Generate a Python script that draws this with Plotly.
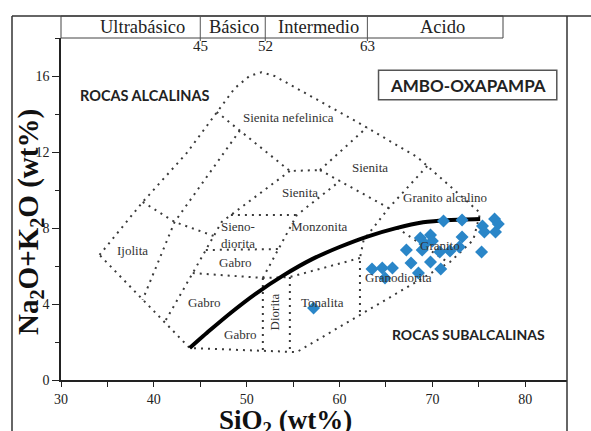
import plotly.graph_objects as go

# ---------------- data ----------------
# Sample analyses (SiO2 wt%, Na2O+K2O wt%)
sio2 = [71.2, 73.2, 75.4, 75.6, 76.7, 77.1, 76.8, 68.7, 69.8, 69.2, 70.0, 73.2,
        67.2, 68.9, 70.8, 71.9, 72.9, 75.3, 67.7, 69.8, 70.9, 63.5, 64.6, 65.7,
        64.9, 68.5, 57.2]
alkalis = [8.37, 8.42, 8.10, 7.79, 8.47, 8.21, 7.79, 7.47, 7.63, 7.16, 7.32, 7.53,
           6.84, 6.84, 6.74, 6.79, 7.00, 6.74, 6.16, 6.21, 5.84, 5.84, 5.89, 5.89,
           5.37, 5.63, 3.79]

# Alkaline / subalkaline divide
divide_x = [43.86, 46.0, 48.5, 51.0, 54.0, 57.0, 60.0, 63.0, 66.0, 69.0, 72.0, 75.15]
divide_y = [1.68, 2.60, 3.62, 4.55, 5.52, 6.35, 7.00, 7.55, 7.98, 8.30, 8.42, 8.47]

# Field boundaries (dotted)
outer_x = [34.15, 38.8, 43.55, 46.77, 48.7, 50.3, 51.6, 53.0, 55.7, 61.9, 68.35, 75.15, 74.4, 71.9, 55.4, 43.86, 34.15]
outer_y = [6.58, 9.37, 11.95, 14.11, 15.35, 16.0, 16.2, 16.0, 15.26, 13.58, 11.74, 8.79, 7.37, 6.21, 1.47, 1.68, 6.58]
neph_x = [46.77, 54.65, 57.89]
neph_y = [14.11, 11.0, 11.05]
sye_up_x = [57.89, 62.96]
sye_up_y = [11.05, 13.3]
sye_low_x = [57.89, 65.3]
sye_low_y = [11.05, 9.05]
gra_alc_x = [69.44, 65.3, 62.6, 62.2, 62.2]
gra_alc_y = [11.26, 9.05, 7.37, 6.42, 3.42]
ijo_right_x = [49.26, 42.24, 38.79]
ijo_right_y = [13.13, 8.32, 4.22]
ijo_top_x = [38.8, 42.24, 46.45]
ijo_top_y = [9.37, 8.32, 7.58]
gab_left_x = [54.65, 47.31, 44.19, 41.17]
gab_left_y = [11.0, 8.32, 5.63, 3.05]
sdio_top_x = [48.3, 55.4]
sdio_top_y = [8.68, 8.68]
sdio_bot_x = [45.6, 53.42]
sdio_bot_y = [6.84, 6.89]
gab_bot_x = [44.19, 51.74, 54.65, 62.2]
gab_bot_y = [5.63, 5.37, 5.42, 6.42]
monz_x = [51.74, 55.4, 60.04]
monz_y = [5.37, 8.68, 10.47]
dio_l_x = [51.74, 51.74]
dio_l_y = [5.37, 1.54]
dio_r_x = [54.65, 54.65]
dio_r_y = [5.42, 1.48]
grd_x = [66.2, 71.75]
grd_y = [8.0, 6.17]

boundaries = [(outer_x, outer_y), (neph_x, neph_y), (sye_up_x, sye_up_y),
              (sye_low_x, sye_low_y), (gra_alc_x, gra_alc_y), (ijo_right_x, ijo_right_y),
              (ijo_top_x, ijo_top_y), (gab_left_x, gab_left_y), (sdio_top_x, sdio_top_y),
              (sdio_bot_x, sdio_bot_y), (gab_bot_x, gab_bot_y), (monz_x, monz_y),
              (dio_l_x, dio_l_y), (dio_r_x, dio_r_y), (grd_x, grd_y)]

# Field names
field_names = ["Sienita nefelinica", "Sienita", "Sienita", "Granito alcalino", "Monzonita",
               "Sieno-<br>diorita", "Ijolita", "Gabro", "Gabro", "Gabro", "Tonalita",
               "Granodiorita", "Granito"]
field_x = [54.46, 63.3, 55.73, 71.36, 57.89, 49.04, 37.72, 48.83, 45.5, 49.37, 58.2, 66.3, 70.8]
field_y = [13.79, 11.16, 9.89, 9.58, 8.1, 7.63, 6.79, 6.16, 4.1, 2.42, 4.1, 5.37, 7.1]

# Header (silica classes)
groups = ["Ultrabásico", "Básico", "Intermedio", "Acido"]
group_limits = [45, 52, 63]

x_ticks = [30, 40, 50, 60, 70, 80]
y_ticks = [0, 4, 8, 12, 16]

# ---------------- figure ----------------
XR = [30, 84.5]
L, R, T, B = 61, 24, 38, 51
PW, PH = 591 - L - R, 431 - T - B


def pxx(p):
    return (p - L) / PW


def pxy(p):
    return (431 - B - p) / PH


def datax(v):
    return (v - XR[0]) / (XR[1] - XR[0])


fig = go.Figure()
dotc = "#3a3a3a"
for bx, by in boundaries:
    fig.add_trace(go.Scatter(x=bx, y=by, mode="lines", hoverinfo="skip",
                             line=dict(color=dotc, width=2, dash="2px,5px"),
                             showlegend=False))

fig.add_trace(go.Scatter(x=divide_x, y=divide_y, mode="lines", showlegend=False,
                         line=dict(color="black", width=4, shape="spline", smoothing=0.6)))

fig.add_trace(go.Scatter(x=sio2, y=alkalis, mode="markers", showlegend=False,
                         marker=dict(symbol="diamond", size=10, color="#2a86c8",
                                     line=dict(width=0))))

serif = "Liberation Serif"
C = dict(showarrow=False, xanchor="center", yanchor="middle")
ann = []
for name, fx, fy in zip(field_names, field_x, field_y):
    ann.append(dict(x=fx, y=fy, xref="x", yref="y", text=name,
                    font=dict(family=serif, size=13, color="#333"), **C))
ann.append(dict(x=53.1, y=3.58, xref="x", yref="y", text="Diorita", textangle=-90,
                font=dict(family=serif, size=13, color="#333"), **C))
ann.append(dict(x=39.0, y=14.95, xref="x", yref="y", text="<b>ROCAS ALCALINAS</b>",
                font=dict(family="Lato", size=14.5, color="#222"), **C))
ann.append(dict(x=73.86, y=2.37, xref="x", yref="y", text="<b>ROCAS SUBALCALINAS</b>",
                font=dict(family="Lato", size=14, color="#222"), **C))
ann.append(dict(x=73.8, y=15.52, xref="x", yref="y", text="<b>AMBO-OXAPAMPA</b>",
                font=dict(family="Lato", size=17, color="#222"), **C))

# header texts
header_px = [142, 234, 318, 442]
for g, hx in zip(groups, header_px):
    ann.append(dict(x=pxx(hx), y=pxy(27), xref="paper", yref="paper", text=g,
                    font=dict(family=serif, size=18.5, color="#222"), **C))
for lim in group_limits:
    ann.append(dict(x=datax(lim), y=pxy(46), xref="paper", yref="paper", text=str(lim),
                    font=dict(family=serif, size=15, color="#222"), **C))

# axis titles
ann.append(dict(x=pxx(30), y=pxy(222), xref="paper", yref="paper",
                text="<b>Na<sub>2</sub>O+K<sub>2</sub>O (wt%)</b>", textangle=-90,
                font=dict(family=serif, size=29, color="#111"), **C))
ann.append(dict(x=pxx(285), y=pxy(422), xref="paper", yref="paper",
                text="<b>SiO<sub>2</sub> (wt%)</b>",
                font=dict(family=serif, size=27, color="#111"), **C))

ptop = pxy(16)
pbot = pxy(440)
pleft = pxx(12)
shapes = [
    dict(type="line", xref="paper", yref="paper", x0=pleft, x1=pleft, y0=pbot, y1=ptop,
         line=dict(color="#333", width=1.5)),
    dict(type="line", xref="paper", yref="paper", x0=pleft, x1=pxx(591), y0=ptop, y1=ptop,
         line=dict(color="#333", width=1.5)),
    dict(type="line", xref="paper", yref="paper", x0=1, x1=1, y0=pbot, y1=ptop,
         line=dict(color="#333", width=1.5)),
    dict(type="rect", xref="paper", yref="paper", x0=0, x1=pxx(503), y0=1, y1=ptop,
         line=dict(color="#444", width=1)),
    dict(type="rect", xref="x", yref="y", x0=64.2, x1=83.4, y0=14.75, y1=16.3,
         line=dict(color="#555", width=1.5)),
]
for lim in group_limits:
    shapes.append(dict(type="line", xref="paper", yref="paper", x0=datax(lim),
                       x1=datax(lim), y0=pxy(41), y1=ptop,
                       line=dict(color="#555", width=1)))

tickfont = dict(family=serif, size=14, color="#222")
fig.update_layout(
    width=591, height=431,
    margin=dict(l=L, r=R, t=T, b=B),
    plot_bgcolor="white", paper_bgcolor="white",
    annotations=ann, shapes=shapes,
    xaxis=dict(range=XR, tickvals=x_ticks, ticks="outside", ticklen=5, tickwidth=1.2,
               tickcolor="#222", showline=True, linecolor="#222", linewidth=1.5,
               showgrid=False, zeroline=False, tickfont=tickfont,
               minor=dict(tick0=35, dtick=10, ticks="outside", ticklen=5, tickcolor="#222")),
    yaxis=dict(range=[0, 18], tickvals=y_ticks, ticks="outside", ticklen=7, tickwidth=1.2,
               tickcolor="#222", showline=True, linecolor="#222", linewidth=1.5,
               showgrid=False, zeroline=False, tickfont=tickfont,
               minor=dict(tick0=0, dtick=2, ticks="outside", ticklen=4, tickcolor="#222")),
)

fig.write_html("out.html")
